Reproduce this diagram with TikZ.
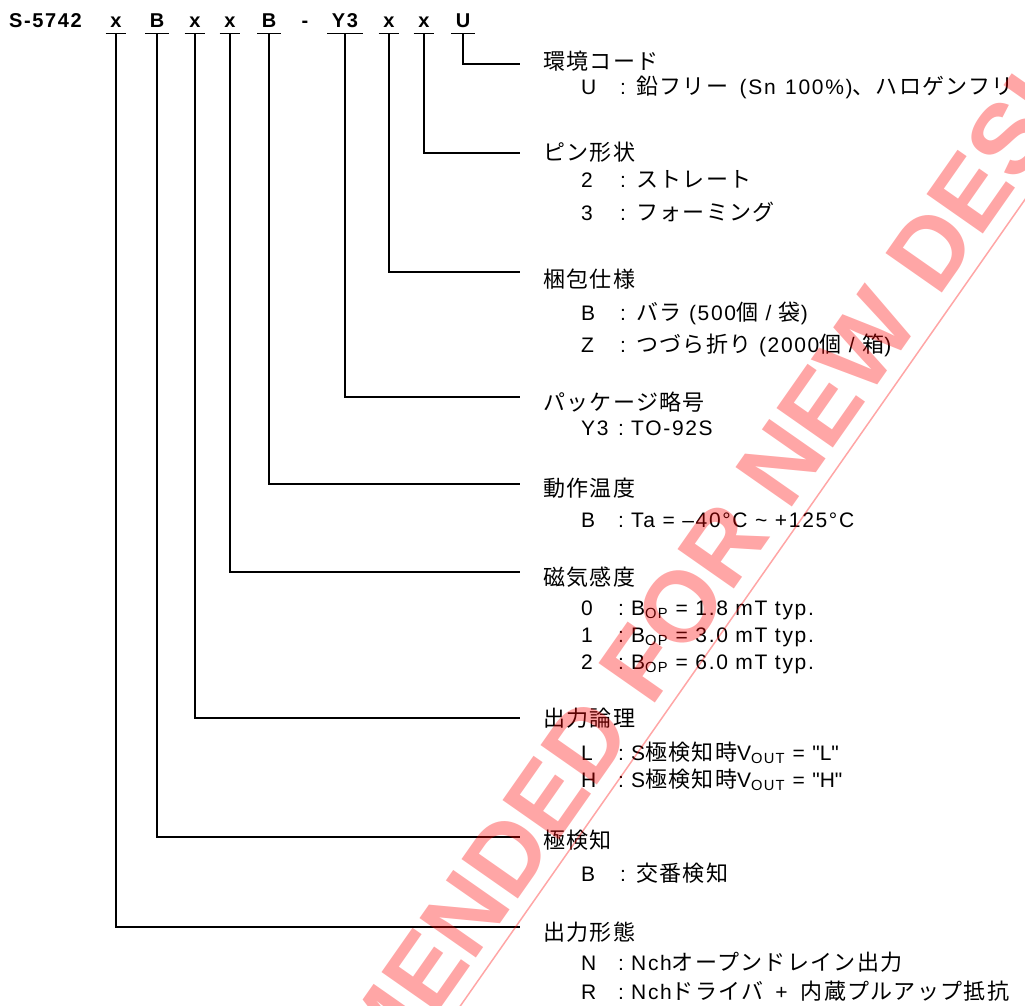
\documentclass[tikz,border=0pt]{standalone}
\usepackage{fontspec}
\setmainfont{Liberation Sans}[LetterSpace=8]
\newfontfamily\jp{Noto Sans CJK JP}[LetterSpace=6]
\newfontfamily\wmfont{Liberation Sans Bold}
\newcommand\jtxt[1]{{\fontsize{22}{26}\selectfont\jp #1}}
\newcommand\subln[6]{%
  \node[txt] (#1k) at (581,#2) {#3};
  \node[txt] (#1c) at (#4,#2) {:};
  \node[txt] (#1v) at (#5,#2) {#6};}
\begin{document}
\begin{tikzpicture}[x=1pt,y=-1pt,
  txt/.style={anchor=base west,inner sep=0pt,font=\fontsize{21}{25}\selectfont},
  head/.style={anchor=west,inner sep=0pt,font=\fontsize{22}{26}\selectfont\jp},
  code/.style={anchor=base,inner xsep=4.5pt,inner ysep=5pt,font=\fontsize{20}{24}\selectfont\bfseries},
  conn/.style={line width=1.3pt},
  wm/.style={inner xsep=0pt,inner ysep=13pt,rotate=55,text=red,opacity=0.35,
    font=\fontsize{100}{104}\selectfont\wmfont}]
\useasboundingbox (0,0) rectangle (1025,1006);

% part number
\node[anchor=base west,inner sep=0pt,font=\fontsize{20}{24}\selectfont\bfseries] (pn) at (9,28) {S-5742};
\node[code] (c1) at (116,28) {x};
\node[code] (c2) at (157,28) {B};
\node[code] (c3) at (195,28) {x};
\node[code] (c4) at (230,28) {x};
\node[code] (c5) at (269,28) {B};
\node[anchor=base,inner sep=0pt,font=\fontsize{20}{24}\selectfont\bfseries] (dash) at (305,28) {-};
\node[code] (c6) at (345,28) {Y3};
\node[code] (c7) at (389,28) {x};
\node[code] (c8) at (424,28) {x};
\node[code] (c9) at (463,28) {U};

\foreach \c in {c1,c2,c3,c4,c5,c6,c7,c8,c9}
  \draw[conn] (\c.south west) -- (\c.south east);

% headings
\node[head] (h1) at (543,61.5) {環境コード};
\node[head] (h2) at (543,152.5) {ピン形状};
\node[head] (h3) at (543,279) {梱包仕様};
\node[head] (h4) at (543,402) {パッケージ略号};
\node[head] (h5) at (543,488) {動作温度};
\node[head] (h6) at (543,577) {磁気感度};
\node[head] (h7) at (543,718) {出力論理};
\node[head] (h8) at (543,840) {極検知};
\node[head] (h9) at (543,932) {出力形態};

% connector ends
\coordinate (e1) at (520,64);
\coordinate (e2) at (520,153);
\coordinate (e3) at (520,272);
\coordinate (e4) at (520,397);
\coordinate (e5) at (520,484);
\coordinate (e6) at (520,572);
\coordinate (e7) at (520,718);
\coordinate (e8) at (520,837);
\coordinate (e9) at (520,927);

\draw[conn] (c9.south) |- (e1);
\draw[conn] (c8.south) |- (e2);
\draw[conn] (c7.south) |- (e3);
\draw[conn] (c6.south) |- (e4);
\draw[conn] (c5.south) |- (e5);
\draw[conn] (c4.south) |- (e6);
\draw[conn] (c3.south) |- (e7);
\draw[conn] (c2.south) |- (e8);
\draw[conn] (c1.south) |- (e9);

% descriptions
\subln{sa}{95}{U}{620}{636}{\jtxt{鉛フリー}\hspace{4pt} (Sn\hspace{2pt} 100\%)\jtxt{、ハロゲンフリ}}
\subln{sb}{187}{2}{620}{636}{\jtxt{ストレート}}
\subln{sc}{220}{3}{620}{636}{\jtxt{フォーミング}}
\subln{sd}{320}{B}{620}{636}{\jtxt{バラ} (500\jtxt{個} / \jtxt{袋})}
\subln{se}{352}{Z}{620}{636}{\jtxt{つづら折り} (2000\jtxt{個} / \jtxt{箱})}
\subln{sf}{435}{Y3}{618}{631}{TO-92S}
\subln{sg}{527}{B}{618}{631}{Ta = –40°C \textasciitilde{} +125°C}
\subln{sh}{615}{0}{618}{631}{B\textsubscript{OP} = 1.8 mT typ.}
\subln{si}{642}{1}{618}{631}{B\textsubscript{OP} = 3.0 mT typ.}
\subln{sj}{669}{2}{618}{631}{B\textsubscript{OP} = 6.0 mT typ.}
\subln{sk}{760}{L}{618}{631}{S\jtxt{極検知時}V\textsubscript{OUT} = \textquotedbl L\textquotedbl}
\subln{sl}{787}{H}{618}{631}{S\jtxt{極検知時}V\textsubscript{OUT} = \textquotedbl H\textquotedbl}
\subln{sm}{881}{B}{620}{636}{\jtxt{交番検知}}
\subln{sn}{970}{N}{618}{631}{Nch\jtxt{オープンドレイン出力}}
\subln{so}{999}{R}{618}{631}{Nch\jtxt{ドライバ}\hspace{12pt}+\hspace{13pt}\jtxt{内蔵プルアップ抵抗}}

% watermark
\begin{scope}
\clip (0,0) rectangle (1025,1006);
\node[wm] (wmk) at (569,766) {NOT RECOMMENDED FOR NEW DESIGN};
\draw[red,opacity=0.35,line width=1.5pt] (wmk.south west) -- (wmk.south east);
\end{scope}
\end{tikzpicture}
\end{document}
